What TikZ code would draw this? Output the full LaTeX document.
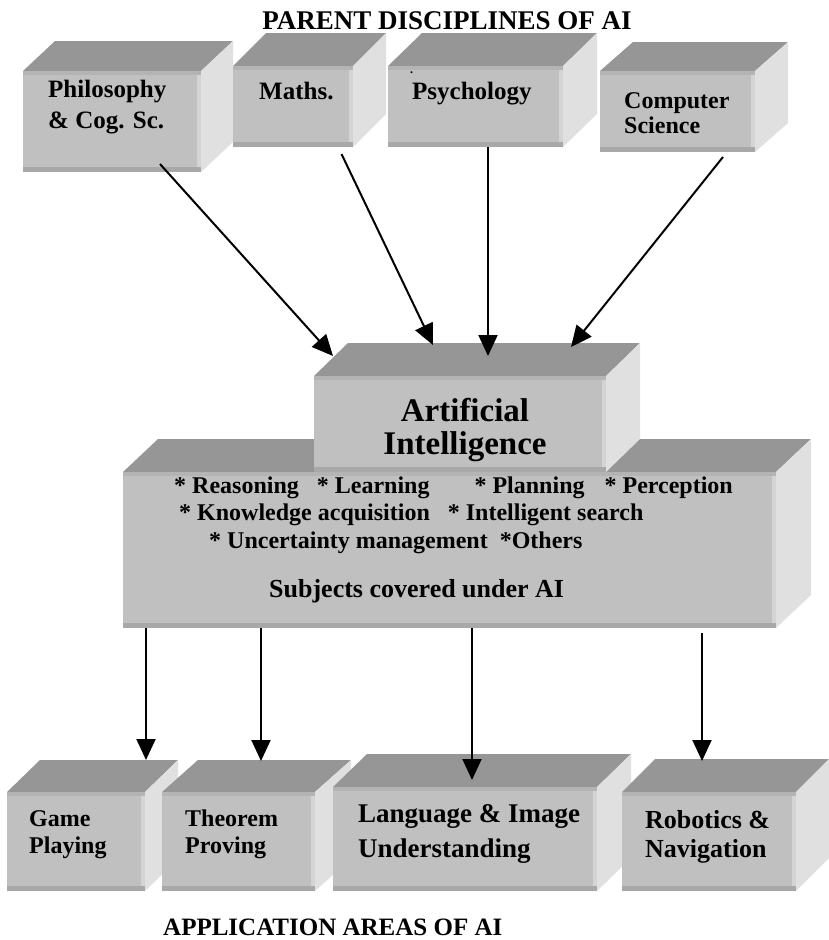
\documentclass[tikz,border=0pt]{standalone}
\usepackage{fontspec}
\setmainfont{Liberation Serif}
\usetikzlibrary{arrows.meta,calc}
\definecolor{boxfront}{RGB}{192,192,192}
\definecolor{boxtop}{RGB}{150,150,150}
\definecolor{boxside}{RGB}{224,224,224}
\definecolor{bevtop}{RGB}{180,180,180}
\definecolor{bevbot}{RGB}{168,168,168}
\definecolor{bevright}{RGB}{212,212,212}
\newcommand{\solid}[3]{%
  \fill[boxtop] (#1.north west) -- ++(#2,#3) -- ($(#1.north east)+(#2,#3)$) -- (#1.north east) -- cycle;
  \fill[boxside] (#1.north east) -- ++(#2,#3) -- ($(#1.south east)+(#2,#3)$) -- (#1.south east) -- cycle;
  \fill[bevtop] (#1.north west) rectangle ([yshift=-4pt]#1.north east);
  \fill[bevright] ([xshift=-4pt,yshift=-4pt]#1.north east) rectangle ([yshift=5pt]#1.south east);
  \fill[bevbot] ([yshift=5pt]#1.south west) rectangle (#1.south east);
}
\begin{document}
\begin{tikzpicture}[x=1pt,y=-1pt,
    face/.style={fill=boxfront, inner sep=0pt, outer sep=0pt, anchor=north west},
    boxtext/.style={font=\fontsize{25}{31}\selectfont\bfseries, align=left, anchor=base west, inner sep=0pt},
    areatext/.style={boxtext, font=\fontsize{24}{27}\selectfont\bfseries},
    listtext/.style={boxtext, font=\fontsize{24}{27}\selectfont\bfseries},
    heading/.style={font=\fontsize{27}{27}\selectfont\bfseries, inner sep=0pt},
    link/.style={-{Triangle[length=21pt,width=19pt]}, line width=2pt}]
    \useasboundingbox (0,0) rectangle (829,940);
    \node[heading, anchor=base] (top-title) at (447,29) {PARENT DISCIPLINES OF AI};
    \node[face, minimum width=178pt, minimum height=101pt] (philo) at (23,71) {};
    \solid{philo}{32}{-30}
    \node[face, minimum width=120pt, minimum height=81pt] (maths) at (233,66) {};
    \solid{maths}{33}{-33}
    \node[face, minimum width=175pt, minimum height=81pt] (psych) at (388,66) {};
    \solid{psych}{34}{-33}
    \node[face, minimum width=155pt, minimum height=81pt] (comp) at (600,71) {};
    \solid{comp}{33}{-29}
    \node[boxtext] (philo-t) at (48,128) {Philosophy\\\& Cog. Sc.};
    \node[boxtext] (maths-t) at (259,99) {Maths.};
    \node[boxtext, font=\fontsize{12}{12}\selectfont\bfseries] (psych-dot) at (410,73) {.};
    \node[boxtext] (psych-t) at (412,99) {Psychology};
    \node[boxtext, font=\fontsize{24}{25}\selectfont\bfseries] (comp-t) at (624,133) {Computer\\Science};
    \node[face, minimum width=653pt, minimum height=156pt] (subj) at (123,472) {};
    \solid{subj}{35}{-33}
    \node[face, minimum width=292pt, minimum height=96pt] (ai) at (314,376) {};
    \solid{ai}{34}{-33}
    \node[boxtext, font=\fontsize{33}{33}\selectfont\bfseries, align=center, anchor=base] (ai-t) at (465,454) {Artificial\\Intelligence};
    \node[listtext] (subj-a) at (174,493) {* Reasoning\hspace{12pt} * Learning\hspace{39pt} * Planning\hspace{14pt} * Perception};
    \node[listtext] (subj-b) at (179,520) {* Knowledge acquisition\hspace{12pt} * Intelligent search};
    \node[listtext] (subj-c) at (209,548) {* Uncertainty management\hspace{6pt} *Others};
    \node[boxtext, font=\fontsize{26}{26}\selectfont\bfseries] (subj-t) at (269,597) {Subjects covered under AI};
    \draw[link] ([xshift=48pt,yshift=8pt]philo.south) -- ([xshift=-127pt,yshift=20pt]ai.north);
    \draw[link] ([xshift=48.5pt,yshift=-7pt]maths.south) -- ([xshift=-27pt,yshift=31pt]ai.north);
    \draw[link] ([xshift=12.5pt]psych.south) -- ([xshift=28pt,yshift=20pt]ai.north);
    \draw[link] ([xshift=45.5pt,yshift=-5pt]comp.south) -- ([xshift=111pt,yshift=29pt]ai.north);
    \node[face, minimum width=138pt, minimum height=99pt] (game) at (7,792) {};
    \solid{game}{33}{-32}
    \node[face, minimum width=153pt, minimum height=99pt] (thm) at (162,792) {};
    \solid{thm}{36}{-32}
    \node[face, minimum width=264pt, minimum height=104pt] (lang) at (333,787) {};
    \solid{lang}{34}{-33}
    \node[face, minimum width=174pt, minimum height=99pt] (robot) at (622,792) {};
    \solid{robot}{33}{-33}
    \node[areatext] (game-t) at (29,853) {Game\\Playing};
    \node[areatext] (thm-t) at (185,853) {Theorem\\Proving};
    \node[boxtext, font=\fontsize{27}{35}\selectfont\bfseries] (lang-t) at (358,857) {Language \& Image\\Understanding};
    \node[boxtext, font=\fontsize{26}{29}\selectfont\bfseries] (robot-t) at (645,857) {Robotics \&\\Navigation};
    \draw[link] ([xshift=-303.5pt]subj.south) -- ([xshift=70pt,yshift=32pt]game.north);
    \draw[link] ([xshift=-188.5pt]subj.south) -- ([xshift=22.5pt,yshift=31pt]thm.north);
    \draw[link] ([xshift=22.5pt]subj.south) -- ([xshift=7pt,yshift=7pt]lang.north);
    \draw[link] ([xshift=252.5pt,yshift=-5pt]subj.south) -- ([xshift=-7pt,yshift=31pt]robot.north);
    \node[heading, anchor=base west, font=\fontsize{25}{25}\selectfont\bfseries] (bottom-title) at (163,935) {APPLICATION AREAS OF AI};
\end{tikzpicture}
\end{document}
